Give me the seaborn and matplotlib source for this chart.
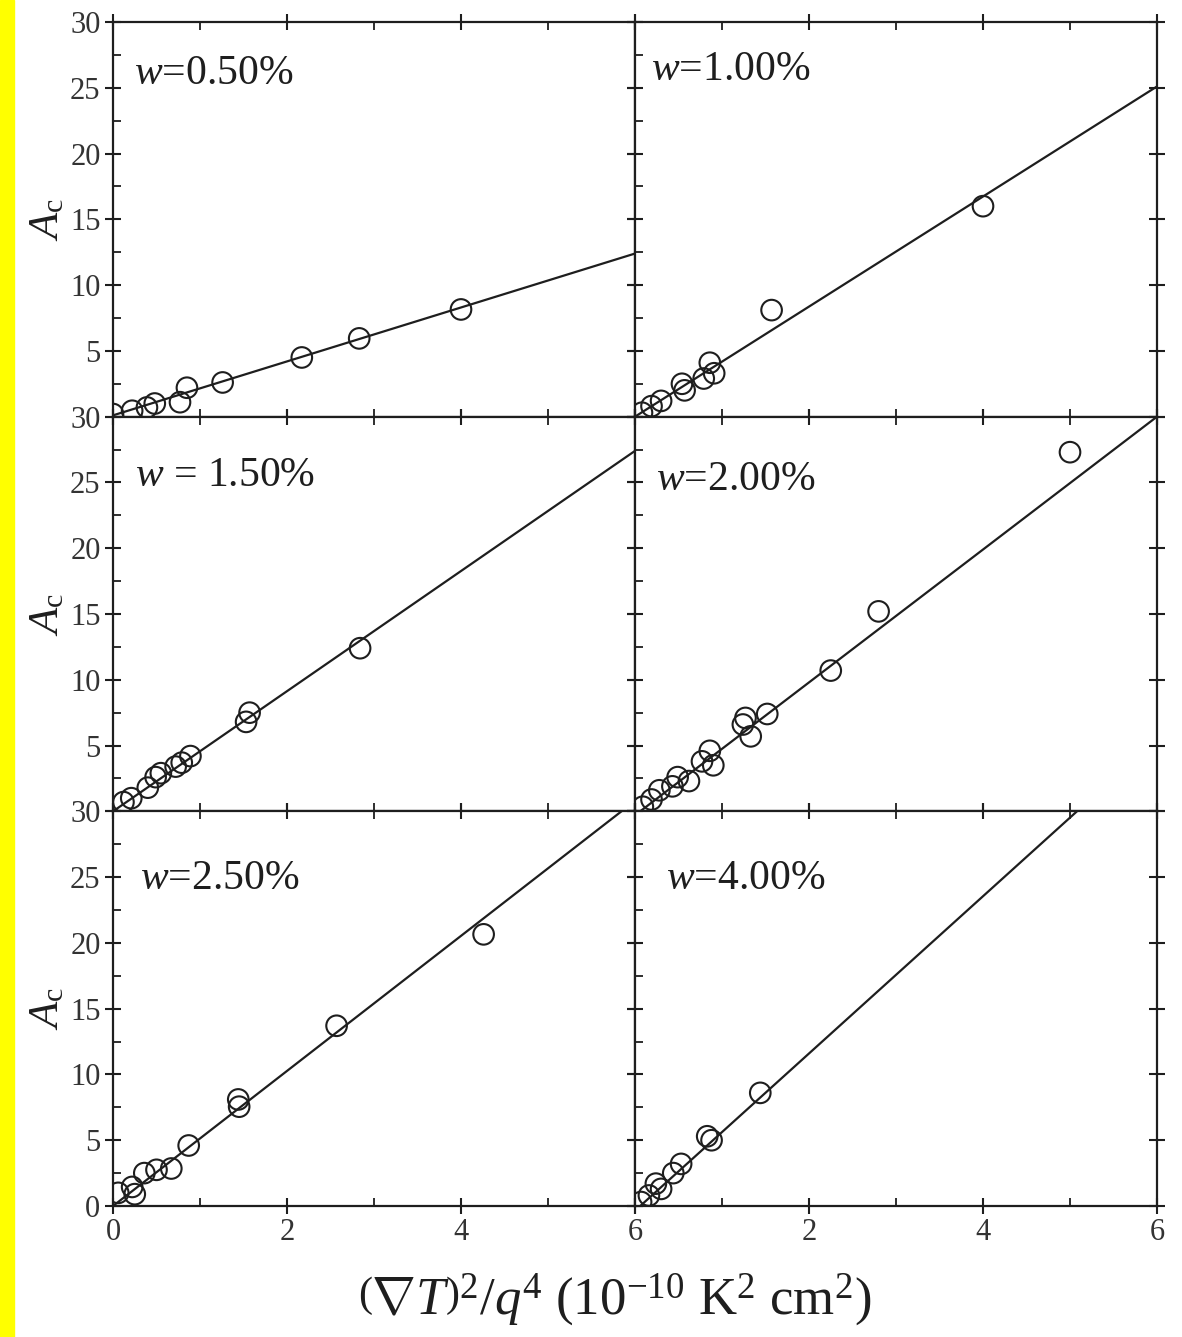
import pandas as pd
import matplotlib.pyplot as plt
import seaborn as sns
from matplotlib.patches import Rectangle

# --- data: A_c vs (grad T)^2/q^4 ---
labels = ['$w$=0.50%', '$w$=1.00%', '$w$ = 1.50%', '$w$=2.00%', '$w$=2.50%', '$w$=4.00%']

x_050 = [0.0, 0.22, 0.39, 0.48, 0.77, 0.85, 1.26, 2.17, 2.83, 4.0]
y_050 = [0.2, 0.45, 0.7, 1.0, 1.1, 2.2, 2.6, 4.5, 5.95, 8.15]

x_100 = [0.08, 0.19, 0.30, 0.54, 0.57, 0.79, 0.86, 0.91, 1.57, 4.0]
y_100 = [0.3, 0.8, 1.2, 2.5, 2.0, 2.9, 4.1, 3.3, 8.1, 16.0]

x_150 = [0.12, 0.21, 0.40, 0.49, 0.55, 0.72, 0.79, 0.89, 1.53, 1.57, 2.84]
y_150 = [0.7, 1.0, 1.8, 2.6, 2.9, 3.4, 3.7, 4.2, 6.8, 7.5, 12.4]

x_200 = [0.09, 0.19, 0.28, 0.43, 0.49, 0.62, 0.77, 0.86, 0.90, 1.24, 1.27, 1.33, 1.52, 2.25, 2.80, 5.0]
y_200 = [0.35, 0.9, 1.6, 1.9, 2.6, 2.3, 3.8, 4.6, 3.5, 6.6, 7.1, 5.7, 7.4, 10.7, 15.2, 27.3]

x_250 = [0.06, 0.22, 0.25, 0.36, 0.50, 0.67, 0.87, 1.44, 1.45, 2.57, 4.26]
y_250 = [1.0, 1.45, 0.9, 2.5, 2.75, 2.85, 4.6, 8.1, 7.55, 13.7, 20.65]

x_400 = [0.07, 0.16, 0.24, 0.30, 0.44, 0.53, 0.83, 0.88, 1.44]
y_400 = [0.3, 0.8, 1.7, 1.3, 2.5, 3.2, 5.3, 5.0, 8.6]

# fitted straight lines (end points)
fit_x = [[0, 6], [0, 6], [0, 6], [0, 6], [0, 6], [0.06, 5.08]]
fit_y = [[0.1, 12.4], [0.0, 25.1], [0.0, 27.4], [-0.3, 30.0], [0.0, 30.8], [0.0, 30.0]]

xs = [x_050, x_100, x_150, x_200, x_250, x_400]
ys = [y_050, y_100, y_150, y_200, y_250, y_400]

rows = []
for i in range(6):
    for a, b in zip(xs[i], ys[i]):
        rows.append({'panel': i, 'x': a, 'A': b})
df = pd.DataFrame(rows)

sns.set_theme(style='ticks')
plt.rcParams['font.family'] = ['Liberation Serif', 'DejaVu Serif']
plt.rcParams['mathtext.fontset'] = 'custom'
plt.rcParams['mathtext.rm'] = 'Liberation Serif'
plt.rcParams['mathtext.it'] = 'Liberation Serif:italic'
plt.rcParams['axes.linewidth'] = 1.6
ink = '#1e1e1e'

fig = plt.figure(figsize=(11.82, 13.37), dpi=100)
axes = fig.subplots(3, 2)
fig.subplots_adjust(left=113/1182, right=1157/1182, top=1-22/1337, bottom=1-1206/1337,
                    wspace=0, hspace=0)
fig.patches.append(Rectangle((0, 0), 14/1182, 1, transform=fig.transFigure,
                             color='#ffff00', zorder=0))

text_pos = [(0.04, 0.87), (0.03, 0.88), (0.042, 0.85), (0.04, 0.84), (0.052, 0.83), (0.06, 0.83)]

for i, ax in enumerate(axes.flat):
    r, c = divmod(i, 2)
    sub = df[df['panel'] == i]
    sns.lineplot(x=fit_x[i], y=fit_y[i], ax=ax, color=ink, lw=1.6)
    sns.scatterplot(data=sub, x='x', y='A', ax=ax, marker='o', s=220,
                    facecolors='none', edgecolor=ink, linewidth=1.5, zorder=3)
    ax.set_xlim(0, 6)
    ax.set_ylim(0, 30)
    ax.set_xlabel('')
    ax.set_ylabel('')
    for sp in ax.spines.values():
        sp.set_color(ink)

    ax.set_xticks([1, 3, 5], minor=True)
    ax.set_yticks([2.5, 7.5, 12.5, 17.5, 22.5, 27.5], minor=True)
    if r == 2:
        ax.set_xticks([0, 2, 4, 6], ['0', '2', '4', '6'] if c == 0 else ['', '2', '4', '6'])
    else:
        ax.set_xticks([0, 2, 4, 6], [''] * 4)
    yt = [0, 5, 10, 15, 20, 25, 30]
    if c == 0:
        if r == 2:
            ax.set_yticks(yt, ['0', '5', '10', '15', '20', '25', '30'])
        else:
            ax.set_yticks(yt, ['', '5', '10', '15', '20', '25', '30'])
        ax.set_ylabel('$A_{\\mathrm{c}}$', fontsize=31, color=ink, labelpad=2)
    else:
        ax.set_yticks(yt, [''] * 7)

    ax.tick_params(which='major', direction='inout', length=12, width=1.5,
                   top=True, right=True, labelsize=22, colors=ink, pad=3)
    ax.tick_params(which='major', labelcolor='#333333')
    ax.tick_params(which='minor', direction='in', length=6, width=1.3,
                   top=True, right=False, colors=ink)

    ax.text(text_pos[i][0], text_pos[i][1], labels[i], transform=ax.transAxes,
            fontsize=30, color=ink, ha='left', va='center')

fig.text(0.52, 1 - 1300/1337,
         r'$\left(\nabla T\right)^2/q^4$ (10$^{-10}$ K$^2$ cm$^2$)',
         fontsize=38, color=ink, ha='center', va='center')

fig.savefig('out.png', dpi=100)
